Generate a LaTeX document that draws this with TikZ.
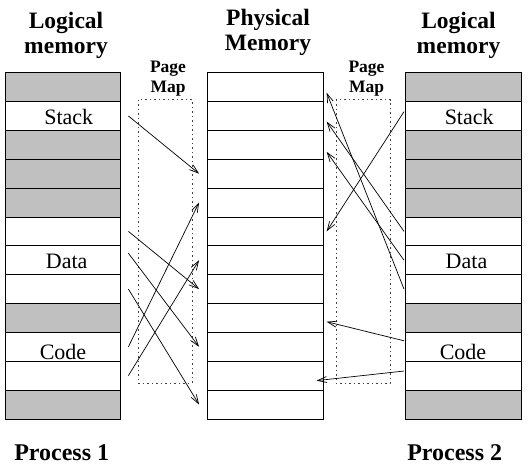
\documentclass[tikz,border=0pt]{standalone}
\usepackage{fontspec}
\setmainfont{Liberation Serif}
\usetikzlibrary{arrows.meta}
\definecolor{slotgray}{RGB}{192,192,192}
\tikzset{
  cell/.style={draw, line width=0.8pt, minimum width=115.7pt, minimum height=28.85pt, inner sep=0pt},
  used/.style={cell, fill=slotgray},
  celltext/.style={anchor=base, inner sep=0pt, font=\fontsize{22}{26}\selectfont},
  heading/.style={anchor=base, align=center, inner sep=0pt, font=\fontsize{23.5}{25}\selectfont\bfseries},
  maplabel/.style={anchor=base, align=center, inner sep=0pt, font=\fontsize{17.5}{19.6}\selectfont\bfseries},
  maparrow/.style={line width=0.7pt, -{Straight Barb[length=9pt,width=6pt]}},
  mapbox/.style={black!75, line width=0.8pt, dash pattern=on 1.5pt off 3pt}
}
\begin{document}
\begin{tikzpicture}[x=1pt, y=-1pt]
\useasboundingbox (0,0) rectangle (530,466);

% Headings (base is on the last line)
\node[heading] (lhead) at (66, 53.3) {Logical\\memory};
\node[heading] (phead) at (268, 50) {Physical\\Memory};
\node[heading] (rhead) at (458.5, 53.3) {Logical\\memory};
\node[maplabel] (lmap) at (168, 92.3) {Page\\Map};
\node[maplabel] (rmap) at (366.5, 92.3) {Page\\Map};

% Page map frames
\draw[mapbox] (138.7, 99.5) rectangle (192, 383.3);
\draw[mapbox] (336, 99.5) rectangle (390, 383.3);

% Logical memory of process 1
\node[used] (L0) at (62.85, 87.125) {};
\node[cell] (L1) at (62.85, 115.975) {};
\node[used] (L2) at (62.85, 144.825) {};
\node[used] (L3) at (62.85, 173.675) {};
\node[used] (L4) at (62.85, 202.525) {};
\node[cell] (L5) at (62.85, 231.375) {};
\node[cell] (L6) at (62.85, 260.225) {};
\node[cell] (L7) at (62.85, 289.075) {};
\node[used] (L8) at (62.85, 317.925) {};
\node[cell] (L9) at (62.85, 346.775) {};
\node[cell] (L10) at (62.85, 375.625) {};
\node[used] (L11) at (62.85, 404.475) {};
\node[celltext] (lstack) at (68.8, 124) {Stack};
\node[celltext] (ldata) at (66.7, 268.3) {Data};
\node[celltext] (lcode) at (63, 359) {Code};

% Physical memory
\node[cell] (P0) at (265.1, 87.125) {};
\node[cell] (P1) at (265.1, 115.975) {};
\node[cell] (P2) at (265.1, 144.825) {};
\node[cell] (P3) at (265.1, 173.675) {};
\node[cell] (P4) at (265.1, 202.525) {};
\node[cell] (P5) at (265.1, 231.375) {};
\node[cell] (P6) at (265.1, 260.225) {};
\node[cell] (P7) at (265.1, 289.075) {};
\node[cell] (P8) at (265.1, 317.925) {};
\node[cell] (P9) at (265.1, 346.775) {};
\node[cell] (P10) at (265.1, 375.625) {};
\node[cell] (P11) at (265.1, 404.475) {};

% Logical memory of process 2
\node[used] (R0) at (463.25, 87.125) {};
\node[cell] (R1) at (463.25, 115.975) {};
\node[used] (R2) at (463.25, 144.825) {};
\node[used] (R3) at (463.25, 173.675) {};
\node[used] (R4) at (463.25, 202.525) {};
\node[cell] (R5) at (463.25, 231.375) {};
\node[cell] (R6) at (463.25, 260.225) {};
\node[cell] (R7) at (463.25, 289.075) {};
\node[used] (R8) at (463.25, 317.925) {};
\node[cell] (R9) at (463.25, 346.775) {};
\node[cell] (R10) at (463.25, 375.625) {};
\node[used] (R11) at (463.25, 404.475) {};
\node[celltext] (rstack) at (469.2, 124) {Stack};
\node[celltext] (rdata) at (466.5, 268.3) {Data};
\node[celltext] (rcode) at (463, 359) {Code};

% Page map of process 1
\draw[maparrow] ([xshift=7.3pt]L1.east) -- ([xshift=-7.8pt]P3.west);
\draw[maparrow] ([xshift=7.3pt]L5.east) -- ([xshift=-7.8pt]P7.west);
\draw[maparrow] ([xshift=7.3pt, yshift=7pt]L6.east) -- ([xshift=-7.8pt]P9.west);
\draw[maparrow] ([xshift=7.3pt]L7.east) -- ([xshift=-7.8pt]P11.west);
\draw[maparrow] ([xshift=7.3pt]L9.east) -- ([xshift=-7.8pt]P4.west);
\draw[maparrow] ([xshift=7.3pt]L10.east) -- ([xshift=-7.8pt]P6.west);

% Page map of process 2
\draw[maparrow] ([xshift=-1pt, yshift=4.3pt]R1.west) -- ([xshift=3.3pt]P5.east);
\draw[maparrow] ([xshift=-1pt]R5.west) -- ([xshift=3.3pt, yshift=-5.6pt]P1.east);
\draw[maparrow] ([xshift=-1pt]R6.west) -- ([xshift=3.3pt, yshift=-7pt]P2.east);
\draw[maparrow] ([xshift=-1pt]R7.west) -- ([xshift=3.3pt, yshift=-5.6pt]P0.east);
\draw[maparrow] ([xshift=-1pt, yshift=6pt]R9.west) -- ([xshift=3.3pt, yshift=-3.8pt]P8.east);
\draw[maparrow] ([xshift=-1pt, yshift=4.6pt]R10.west) -- ([xshift=-6.7pt, yshift=-5pt]P10.east);

% Process names
\node[heading, font=\fontsize{24}{26}\selectfont\bfseries] (proc1) at (61.7, 460) {Process 1};
\node[heading, font=\fontsize{24}{26}\selectfont\bfseries] (proc2) at (454.7, 460) {Process 2};
\end{tikzpicture}
\end{document}
